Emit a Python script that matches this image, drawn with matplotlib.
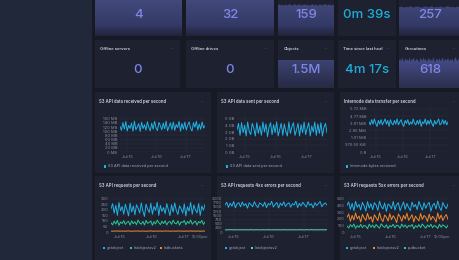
import numpy as np
import matplotlib.pyplot as plt
from matplotlib.patches import Rectangle
from matplotlib.colors import LinearSegmentedColormap

plt.rcParams['font.family'] = ['Inter', 'DejaVu Sans']

W, H = 460, 260
PAGE = '#171a24'
SIDE = '#212839'
PANEL = '#1d2130'
TITLE_C = '#d3d6de'
TICK_C = '#8b91a1'
GRID_C = '#2a2f3f'
MENU_C = '#5d6272'
CYAN = '#1fb2e6'
GREEN = '#2bc79a'
ORANGE = '#f0892d'
LAV = '#7f87e6'
TIME_C = '#1eaedc'

# ---- stat panels ----
top_values = ['4', '32', '159', '0m 39s', '257']
mid_titles = ['Offline servers', 'Offline drives', 'Objects', 'Time since last heal', 'Goroutines']
mid_values = ['0', '0', '1.5M', '4m 17s', '618']

spark_flat = [1.0, 1.0]
spark_159 = [0.86, 0.88, 0.85, 0.87, 0.84, 0.88, 0.86, 0.85, 0.89, 0.86, 0.84, 0.87, 0.88, 0.85,
             0.86, 0.89, 0.84, 0.87, 0.86, 0.88, 0.85, 0.87, 0.84, 0.86, 0.89, 0.85, 0.87, 0.86,
             0.84, 0.88, 0.86, 0.85, 0.87, 0.89, 0.85, 0.86, 0.88, 0.84, 0.87, 0.86]
spark_257 = [0.80, 0.82, 0.79, 0.81, 0.80, 0.83, 0.79, 0.81, 0.82, 0.80, 0.79, 0.82, 0.81, 0.80,
             0.83, 0.79, 0.81, 0.80, 0.82, 0.79, 0.81, 0.83, 0.80, 0.81, 0.79, 0.82, 0.80, 0.81]
spark_objects = [1.0, 1.0]
spark_618 = [0.80, 0.86, 0.78, 0.90, 0.82, 0.76, 0.88, 0.81, 0.84, 0.79, 0.91, 0.77, 0.85, 0.83,
             0.89, 0.78, 0.82, 0.87, 0.80, 0.75, 0.88, 0.84, 0.79, 0.90, 0.81, 0.86, 0.77, 0.83,
             0.89, 0.80, 0.85, 0.78, 0.91, 0.82, 0.76, 0.87, 0.83, 0.80, 0.88, 0.79, 0.84, 0.90,
             0.77, 0.86, 0.81, 0.83, 0.89, 0.78, 0.85, 0.80, 0.87, 0.76, 0.84, 0.91, 0.82, 0.79,
             0.88, 0.81, 0.85, 0.83]

# ---- time series (hours since start) ----
day_ticks = [6, 30, 54]
day_labels = ['Jul 15', 'Jul 16', 'Jul 17']
day_ticks2 = [6, 30, 54, 66]
day_labels2 = ['Jul 15', 'Jul 16', 'Jul 17', '12:00pm']

# S3 API data received (MB)
c1 = [122, 104, 141, 110, 146, 101, 128, 113, 139, 100, 148, 107, 120, 136, 99, 143, 112, 131, 105, 145,
      118, 102, 138, 109, 147, 116, 103, 142, 127, 106, 139, 111, 148, 102, 121, 140, 108, 144, 104, 132,
      117, 147, 100, 137, 110, 143, 106, 129, 145, 114, 101, 141, 119, 148, 105, 134, 109, 144, 115, 126]
# S3 API data sent (GB)
c2 = [3.3, 4.3, 2.5, 4.4, 2.9, 4.0, 2.4, 4.5, 3.1, 2.6, 4.3, 3.6, 2.4, 4.4, 2.8, 3.9, 2.5, 4.5, 3.0, 4.2,
      2.3, 3.7, 4.4, 2.6, 4.1, 2.9, 4.5, 2.4, 3.4, 4.3, 2.5, 4.2, 3.1, 2.4, 4.5, 2.8, 3.8, 4.4, 2.5, 3.3,
      4.3, 2.4, 4.1, 2.9, 4.5, 2.6, 3.6, 4.4, 2.4, 3.9, 3.0, 4.5, 2.5, 4.2, 2.8, 4.4, 2.4, 3.7, 4.3, 2.9]
# Internode bytes received (MiB)
c3 = [4.0, 3.6, 4.3, 3.7, 4.4, 3.8, 3.4, 4.2, 3.7, 4.3, 3.6, 4.0, 4.4, 3.7, 4.2, 3.4, 4.3, 3.8, 3.6, 4.2,
      3.7, 4.4, 3.6, 4.0, 4.3, 3.7, 3.4, 4.2, 3.8, 4.3, 3.6, 4.0, 3.7, 4.4, 3.8, 3.6, 4.2, 3.7, 4.3, 3.4,
      4.0, 3.8, 4.4, 3.6, 4.2, 3.7, 4.3, 3.8, 3.4, 4.2, 3.7, 4.0, 4.4, 3.6, 3.8, 4.3, 3.7, 4.2, 3.6, 4.0]
mib_ticks = [0, 0.9537, 1.9073, 2.861, 3.8147, 4.7684, 5.722]
mib_labels = ['0 B', '976.56 KiB', '1.91 MiB', '2.86 MiB', '3.81 MiB', '4.77 MiB', '5.72 MiB']

# S3 API requests per second
d1_getobject = [210, 255, 170, 240, 150, 265, 190, 230, 160, 250, 200, 145, 260, 180, 235, 155, 245, 215, 170, 262,
                190, 140, 250, 205, 175, 258, 160, 230, 195, 268, 150, 240, 185, 220, 165, 255, 200, 148, 245, 178,
                262, 192, 158, 236, 210, 170, 252, 145, 228, 188, 266, 160, 242, 200, 172, 256, 150, 234, 196, 248]
d1_listobjectsv2 = [82, 65, 98, 71, 105, 60, 90, 76, 102, 68, 88, 95, 62, 100, 74, 92, 66, 108, 80, 70,
                    96, 63, 104, 78, 86, 99, 61, 93, 72, 107, 84, 67, 97, 75, 101, 64, 89, 94, 69, 106,
                    79, 73, 100, 62, 91, 85, 103, 66, 95, 77, 108, 70, 87, 98, 63, 94, 81, 104, 68, 90]
d1_listbuckets = [8, 7, 9, 8, 10, 7, 8, 9, 8, 7, 9, 10, 8, 7, 8, 9, 8, 10, 7, 8,
                  9, 8, 7, 9, 8, 10, 8, 7, 9, 8, 8, 9, 7, 8, 10, 8, 9, 7, 8, 9,
                  8, 7, 10, 8, 9, 8, 7, 9, 8, 8, 10, 7, 9, 8, 8, 9, 7, 8, 9, 8]

# S3 API 4xx errors per second
d2_getobject = [1620, 1780, 1480, 1720, 1550, 1830, 1450, 1690, 1760, 1510, 1800, 1580, 1700, 1430, 1750,
                1640, 1520, 1820, 1600, 1470, 1740, 1680, 1540, 1790, 1460, 1710, 1620, 1840, 1500, 1660,
                1770, 1440, 1730, 1590, 1810, 1530, 1680, 1750, 1490, 1700, 1620, 1850, 1470, 1720, 1560,
                1780, 1640, 1500, 1820, 1600, 1690, 1450, 1760, 1580, 1710, 1830, 1520, 1660, 1740, 1610]
d2_listobjectsv2 = [130, 125, 138, 128, 142, 122, 135, 131, 127, 140, 124, 136, 129, 133, 126, 141, 130, 123, 137, 128,
                    134, 126, 139, 131, 125, 143, 129, 132, 127, 138, 124, 135, 130, 128, 141, 126, 133, 129, 137, 123,
                    136, 131, 127, 140, 129, 134, 125, 138, 130, 128, 142, 126, 135, 131, 124, 137, 129, 133, 127, 139]

# S3 API 5xx errors per second
d3_getobject = [400, 450, 340, 430, 320, 460, 370, 415, 330, 445, 390, 315, 455, 360, 425, 335, 440, 405, 325, 462,
                380, 345, 435, 310, 420, 395, 350, 458, 330, 410, 440, 318, 385, 452, 340, 428, 365, 320, 448, 375,
                412, 335, 460, 390, 328, 438, 355, 415, 445, 312, 400, 430, 345, 465, 370, 322, 442, 388, 350, 420]
d3_listobjectsv2 = [220, 270, 160, 250, 180, 285, 200, 240, 150, 265, 210, 175, 280, 190, 230, 145, 260, 215, 170, 288,
                    195, 155, 255, 225, 165, 275, 185, 245, 205, 140, 270, 230, 160, 250, 195, 282, 175, 215, 260, 150,
                    238, 200, 168, 278, 190, 248, 222, 158, 268, 180, 235, 205, 148, 285, 195, 255, 172, 228, 262, 190]
d3_putbucket = [90, 60, 110, 75, 120, 55, 95, 70, 115, 65, 100, 85, 50, 118, 72, 105, 62, 112, 80, 58,
                122, 88, 68, 108, 52, 97, 78, 116, 64, 102, 92, 56, 119, 74, 106, 60, 98, 83, 113, 48,
                94, 70, 110, 66, 121, 86, 57, 104, 76, 117, 63, 99, 82, 54, 115, 71, 107, 90, 61, 100]

hours = np.linspace(0, 70, 60)

fig = plt.figure(figsize=(W / 100, H / 100), dpi=100, facecolor=PAGE)


def fig_rect(x0, y0, x1, y1, color):
    fig.add_artist(Rectangle((x0 / W, 1 - y1 / H), (x1 - x0) / W, (y1 - y0) / H,
                             transform=fig.transFigure, facecolor=color, edgecolor='none', zorder=-5))


def ftext(x, y, s, **kw):
    fig.text(x / W, 1 - y / H, s, **kw)


def px_axes(x0, y0, x1, y1):
    return fig.add_axes([x0 / W, 1 - y1 / H, (x1 - x0) / W, (y1 - y0) / H])


fig_rect(0, 0, 92, 260, SIDE)

cm_top = LinearSegmentedColormap.from_list('a', [(0, '#20243a'), (0.3, '#343a66'), (1, '#42497b')])
cm_obj = LinearSegmentedColormap.from_list('b', [(0, '#262a44'), (1, '#3c4372')])
cm_gor = LinearSegmentedColormap.from_list('c', [(0, '#2a2f4c'), (1, '#4b5192')])


def spark(x0, y0, x1, y1, vals, cmap):
    ax = px_axes(x0, y0, x1, y1)
    ax.axis('off')
    xs = np.arange(len(vals))
    poly = ax.fill_between(xs, 0, vals, lw=0, color='none')
    ax.set_xlim(0, len(vals) - 1)
    ax.set_ylim(0, 1)
    grad = np.linspace(0, 1, 100).reshape(-1, 1)
    im = ax.imshow(grad, extent=[0, len(vals) - 1, 0, 1], aspect='auto', cmap=cmap, origin='lower')
    im.set_clip_path(poly.get_paths()[0], ax.transData)


# row A (cut at the top)
colsA = [(95, 182), (186, 274), (278, 334), (338, 396), (399, 462)]
sparksA = [spark_flat, spark_flat, spark_159, None, spark_257]
for i, (a, b) in enumerate(colsA):
    fig_rect(a, -5, b, 36, PANEL)
    if sparksA[i] is not None:
        spark(a, 0, b, 36, sparksA[i], cm_top)
    col = TIME_C if 'm' in top_values[i] else LAV
    ftext((a + b) / 2, 15.5, top_values[i], fontsize=9.5, color=col, ha='center', va='center', weight='medium')

# row B
colsB = [(95, 180), (186, 274), (278, 334), (338, 396), (399, 462)]
for i, (a, b) in enumerate(colsB):
    fig_rect(a, 40, b, 88, PANEL)
    if i == 2:
        spark(a, 60, b, 88, spark_objects, cm_obj)
    if i == 4:
        spark(a, 54, b, 88, spark_618, cm_gor)
    col = TIME_C if 'm ' in mid_values[i] else LAV
    ftext(a + 5.5, 49, mid_titles[i], fontsize=3, color=TITLE_C, weight='semibold', va='center')
    ftext(b - 8, 48.5, '···', fontsize=3.5, color=MENU_C, ha='center', va='center')
    ftext((a + b) / 2, 70, mid_values[i], fontsize=9.5, color=col, ha='center', va='center', weight='medium')


def chart_panel(prect, title, plot, series, yticks, ylabels, ylim, xticks, xlabels, legend, leg_y):
    x0, y0, x1, y1 = prect
    fig_rect(x0, y0, x1, y1, PANEL)
    ftext(x0 + 4.5, y0 + 10, title, fontsize=3.1, color=TITLE_C, weight='semibold', va='center')
    ftext(x1 - 8, y0 + 9.5, '···', fontsize=3.5, color=MENU_C, ha='center', va='center')
    ax = px_axes(*plot)
    ax.set_facecolor('none')
    for ys, c in series:
        ax.plot(hours, ys, color=c, lw=0.7)
    ax.set_xlim(0, 70)
    ax.set_ylim(*ylim)
    ax.set_yticks(yticks, ylabels)
    ax.set_xticks(xticks, xlabels)
    ax.tick_params(length=0, labelsize=2.9, labelcolor=TICK_C, pad=2)
    for s in ax.spines.values():
        s.set_visible(False)
    ax.grid(True, color=GRID_C, lw=0.35)
    ax.set_axisbelow(True)
    for mx, label, c in legend:
        fig_rect(mx - 1.2, leg_y - 1.2, mx + 1.2, leg_y + 1.2, c)
        ftext(mx + 3, leg_y, label, fontsize=2.8, color='#a4a9b6', va='center')


chart_panel((95, 92, 211, 173), 'S3 API data received per second', (120, 117, 205, 152),
            [(c1, CYAN)], list(range(0, 161, 20)), ['%d MB' % v for v in range(0, 161, 20)], (0, 168),
            day_ticks, day_labels, [(105, 'S3 API data received per second', CYAN)], 166.5)
chart_panel((217, 92, 334, 173), 'S3 API data sent per second', (237, 115, 327, 152),
            [(c2, CYAN)], list(range(0, 6)), ['%d GB' % v for v in range(0, 6)], (0, 5.55),
            day_ticks, day_labels, [(227, 'S3 API data sent per second', CYAN)], 166.5)
chart_panel((340, 92, 462, 173), 'Internode data transfer per second', (369, 108, 448, 152),
            [(c3, CYAN)], mib_ticks, mib_labels, (0, 5.85),
            day_ticks, day_labels, [(347, 'Internode bytes received', CYAN)], 166.5)

chart_panel((95, 176, 211, 262), 'S3 API requests per second', (111, 197, 205, 232),
            [(d1_getobject, CYAN), (d1_listobjectsv2, GREEN), (d1_listbuckets, ORANGE)],
            list(range(0, 301, 50)), [str(v) for v in range(0, 301, 50)], (0, 315),
            day_ticks2, day_labels2,
            [(104, 'getobject', CYAN), (131, 'listobjectsv2', GREEN), (161, 'listbuckets', ORANGE)], 248)
chart_panel((217, 176, 334, 262), 'S3 API requests 4xx errors per second', (225, 197, 327, 232),
            [(d2_getobject, CYAN), (d2_listobjectsv2, '#5fd6b4')],
            list(range(0, 2001, 250)), [str(v) for v in range(0, 2001, 250)], (0, 2100),
            day_ticks, day_labels,
            [(226, 'getobject', CYAN), (252, 'listobjectsv2', '#5fd6b4')], 248)
chart_panel((340, 176, 462, 262), 'S3 API requests 5xx errors per second', (347, 197, 448, 232),
            [(d3_getobject, CYAN), (d3_listobjectsv2, ORANGE), (d3_putbucket, GREEN)],
            list(range(0, 501, 100)), [str(v) for v in range(0, 501, 100)], (0, 525),
            day_ticks2, day_labels2,
            [(347, 'getobject', CYAN), (374, 'listobjectsv2', ORANGE), (405, 'putbucket', GREEN)], 248)

fig.savefig('out.png', dpi=100, facecolor=PAGE)
